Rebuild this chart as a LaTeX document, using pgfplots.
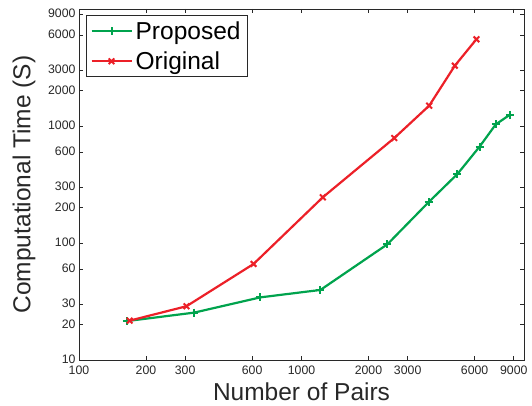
\documentclass[border=0pt]{standalone}
\usepackage{fontspec}
\setmainfont{Liberation Sans}
\usepackage{pgfplots}
\pgfplotsset{compat=1.18}
\definecolor{pgreen}{RGB}{0,163,77}
\definecolor{ored}{RGB}{236,32,40}
\definecolor{axgray}{RGB}{40,40,40}
\begin{document}
\begin{tikzpicture}
\begin{axis}[
  scale only axis,
  width=445pt, height=351pt,
  xmode=log, ymode=log,
  xmin=100, xmax=10000,
  ymin=10, ymax=10000,
  xtick={100,200,300,600,1000,2000,3000,6000,9000},
  xticklabels={100,200,300,600,1000,2000,3000,6000,9000},
  ytick={10,20,30,60,100,200,300,600,1000,2000,3000,6000,9000},
  yticklabels={10,20,30,60,100,200,300,600,1000,2000,3000,6000,9000},
  minor tick num=0,
  /pgf/number format/assume math mode=true,
  tick align=inside,
  major tick length=4pt,
  axis line style={axgray, line width=0.9pt},
  every tick/.style={axgray, line width=0.8pt},
  tick label style={font=\fontsize{12.3}{14}\selectfont, text=axgray},
  xticklabel style={yshift=-2pt},
  yticklabel style={yshift=1pt},
  xlabel={Number of Pairs},
  ylabel={Computational Time (S)},
  every axis x label/.style={at={(axis description cs:0.5,-0.114)}, anchor=base,
    font=\fontsize{24.5}{28}\selectfont, text=axgray},
  every axis y label/.style={at={(axis description cs:-0.1236,0.5)}, rotate=90, anchor=center,
    font=\fontsize{24.5}{28}\selectfont, text=axgray},
  legend style={at={(axis description cs:0.0157,0.983)}, anchor=north west,
    draw=axgray, line width=0.9pt, font=\fontsize{24.5}{27}\selectfont,
    inner xsep=4pt, inner ysep=4pt, row sep=7pt,
    nodes={inner xsep=3pt}},
  legend cell align=left,
  legend image code/.code={%
    \draw[#1, mark repeat=2, mark phase=2] plot coordinates {(0pt,0pt) (20pt,0pt) (40pt,0pt)};},
]
\addplot[pgreen, line width=2.2pt, mark=+, mark size=4pt, mark options={line width=2pt}] coordinates {
(164,21.5) (329,25.4) (653,34.3) (1216,39.7) (2432,97.5) (3724,223) (5022,389) (6310,665) (7465,1032) (8650,1250)
};
\addlegendentry{Proposed}
\addplot[ored, line width=2.2pt, mark=x, mark size=4pt, mark options={line width=2pt}] coordinates {
(169,21.7) (304,28.8) (609,66.2) (1247,246) (2612,789) (3750,1493) (4887,3275) (6110,5510)
};
\addlegendentry{Original}
\end{axis}
\path ([shift={(-79pt,-46pt)}]current axis.south west) rectangle ([shift={(8pt,9pt)}]current axis.north east);
\end{tikzpicture}
\end{document}
